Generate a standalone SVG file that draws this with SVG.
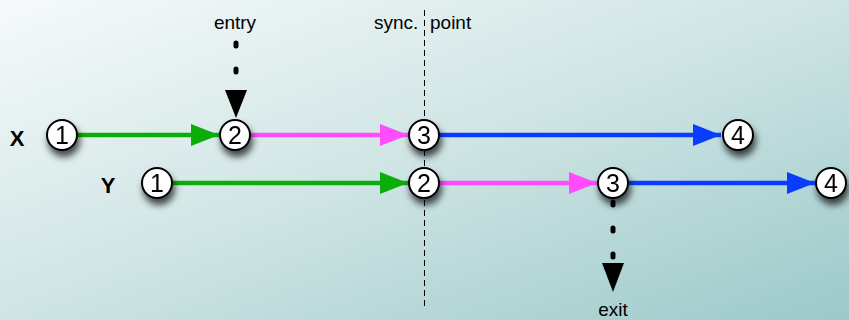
<svg xmlns="http://www.w3.org/2000/svg" width="849" height="320" viewBox="0 0 849 320">
<defs>
<linearGradient id="bg" x1="0" y1="0" x2="1" y2="1">
<stop offset="0" stop-color="#f6fafa"/>
<stop offset="0.5" stop-color="#cfe4e4"/>
<stop offset="1" stop-color="#9bc9c9"/>
</linearGradient>
<filter id="sh" x="-60%" y="-60%" width="220%" height="240%">
<feDropShadow dx="2" dy="6" stdDeviation="3.5" flood-color="#000" flood-opacity="0.7"/>
</filter>
<marker id="ag" markerUnits="userSpaceOnUse" markerWidth="28" markerHeight="22" refX="28" refY="11" orient="auto"><path d="M0,0 L28,11 L0,22 Z" fill="#0aad0a"/></marker>
<marker id="ap" markerUnits="userSpaceOnUse" markerWidth="28" markerHeight="22" refX="28" refY="11" orient="auto"><path d="M0,0 L28,11 L0,22 Z" fill="#ff4cff"/></marker>
<marker id="ab" markerUnits="userSpaceOnUse" markerWidth="28" markerHeight="22" refX="28" refY="11" orient="auto"><path d="M0,0 L28,11 L0,22 Z" fill="#0a3cff"/></marker>
</defs>
<style>
text{font-family:"Liberation Sans",Arial,sans-serif;fill:#000}
.lbl{font-size:19px}
.row{font-size:22px;font-weight:bold;text-anchor:middle}
.num{font-size:25px;text-anchor:middle}
.node circle{fill:#fff;stroke:#000;stroke-width:2}
.c{fill:none;stroke-width:4.5}
.g{stroke:#0aad0a;marker-end:url(#ag)}
.p{stroke:#ff4cff;marker-end:url(#ap)}
.b{stroke:#0a3cff;marker-end:url(#ab)}
.dot{fill:none;stroke:#000;stroke-width:5;stroke-linecap:round;stroke-dasharray:3 23}
</style>
<rect width="849" height="320" fill="url(#bg)"/>
<line x1="424.5" y1="10" x2="424.5" y2="310" stroke="#000" stroke-width="1" stroke-dasharray="6 4"/>
<text class="lbl" x="374" y="29">sync. <tspan x="430">point</tspan></text>
<text class="lbl" x="235" y="29" text-anchor="middle">entry</text>
<text class="lbl" x="613" y="316" text-anchor="middle">exit</text>
<text class="row" x="17" y="146">X</text>
<text class="row" x="108" y="193">Y</text>
<g id="connectors">
<line class="c g" x1="78" y1="135" x2="219" y2="135"/>
<line class="c p" x1="251" y1="135" x2="408" y2="135"/>
<line class="c b" x1="440" y1="135" x2="721" y2="135"/>
<line class="c g" x1="173" y1="183" x2="408" y2="183"/>
<line class="c p" x1="440" y1="183" x2="597" y2="183"/>
<line class="c b" x1="629" y1="183" x2="815" y2="183"/>
<line class="dot" x1="236" y1="43" x2="236" y2="88"/>
<polygon points="225,90 247,90 236,118" fill="#000"/>
<g id="exit-path">
<line class="dot" x1="613" y1="228" x2="613" y2="260"/>
<line class="dot" x1="613" y1="202" x2="613" y2="205"/>
</g>
<polygon points="602,263 624,263 613,292" fill="#000"/>
</g>
<g id="x1" class="node" filter="url(#sh)"><circle cx="62" cy="135" r="15"/><text class="num" x="62" y="144">1</text></g>
<g id="x2" class="node" filter="url(#sh)"><circle cx="235" cy="135" r="15"/><text class="num" x="235" y="144">2</text></g>
<g id="x3" class="node" filter="url(#sh)"><circle cx="424" cy="135" r="15"/><text class="num" x="424" y="144">3</text></g>
<g id="x4" class="node" filter="url(#sh)"><circle cx="738" cy="135" r="15"/><text class="num" x="738" y="144">4</text></g>
<g id="y1" class="node" filter="url(#sh)"><circle cx="157" cy="183" r="15"/><text class="num" x="157" y="192">1</text></g>
<g id="y2" class="node" filter="url(#sh)"><circle cx="424" cy="183" r="15"/><text class="num" x="424" y="192">2</text></g>
<g id="y3" class="node" filter="url(#sh)"><circle cx="613" cy="183" r="15"/><text class="num" x="613" y="192">3</text></g>
<g id="y4" class="node" filter="url(#sh)"><circle cx="831" cy="183" r="15"/><text class="num" x="831" y="192">4</text></g>
</svg>
